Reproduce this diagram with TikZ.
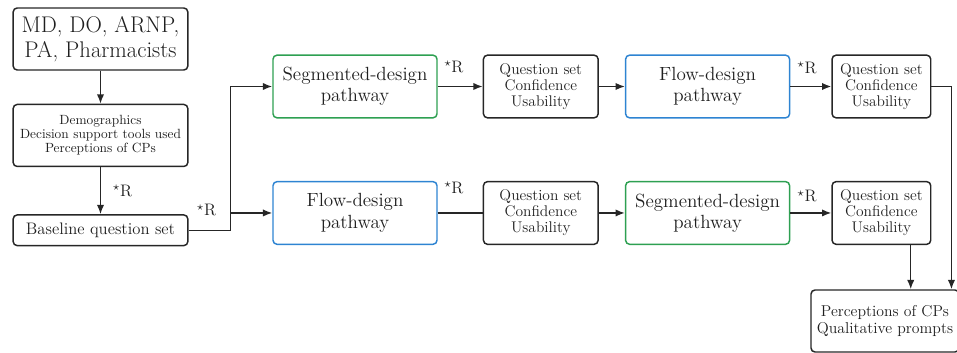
\documentclass[tikz,border=0pt]{standalone}
\usetikzlibrary{positioning, arrows.meta}
\definecolor{segGreen}{RGB}{46,160,82}
\definecolor{flowBlue}{RGB}{46,132,210}
\definecolor{lineGray}{RGB}{38,38,38}

\begin{document}
\begin{tikzpicture}[
x=0.75pt, y=-0.75pt,
mybox/.style={rectangle,
  rounded corners=3pt,
  draw=lineGray,
  line width=1.1pt,
  text=black!88,
  align=center,
  inner sep=1pt,
},
rolebox/.style={mybox, minimum width=131pt, minimum height=46.5pt, font=\fontsize{17}{18.5}\selectfont},
infobox/.style={mybox, minimum width=131pt, minimum height=46.5pt, font=\fontsize{10}{10.5}\selectfont},
basebox/.style={mybox, minimum width=131pt, minimum height=23pt, font=\fontsize{12.5}{14}\selectfont},
pathbox/.style={mybox, minimum width=123pt, minimum height=47pt, font=\fontsize{14.3}{16}\selectfont},
segbox/.style={pathbox, draw=segGreen},
flowbox/.style={pathbox, draw=flowBlue},
qsbox/.style={mybox, minimum width=86pt, minimum height=47pt, font=\fontsize{11.6}{12}\selectfont},
qsnarrow/.style={qsbox, minimum width=74pt},
finalbox/.style={mybox, minimum width=111pt, minimum height=46.5pt, font=\fontsize{11.8}{13}\selectfont},
rlabel/.style={inner sep=0pt, text=black!88, font=\fontsize{12.5}{13}\selectfont},
link/.style={->, line width=1.1pt, draw=lineGray},
>={Latex[length=7pt, width=5.5pt]}
]
\clip (0,0) rectangle (957,353);

% left column
\node[rolebox] (roles) at (100.5,39)
    {MD, DO, ARNP,\\PA, Pharmacists};
\node[infobox, below=24.75pt of roles] (demo)
    {Demographics\\Decision support tools used\\Perceptions of CPs};
\node[basebox, below=35.25pt of demo] (base)
    {Baseline question set};

% upper arm
\node[segbox] (seg1) at (355,86.5)
    {Segmented-design\\pathway};
\node[qsbox, right=33.75pt of seg1] (qs1)
    {Question set\\Confidence\\Usability};
\node[flowbox, right=19.5pt of qs1] (flow1)
    {Flow-design\\pathway};
\node[qsnarrow, right=30.75pt of flow1] (qs2)
    {Question set\\Confidence\\Usability};

% lower arm
\node[flowbox, below=46.75pt of seg1] (flow2)
    {Flow-design\\pathway};
\node[qsbox, right=33.75pt of flow2] (qs3)
    {Question set\\Confidence\\Usability};
\node[segbox, right=19.5pt of qs3] (seg2)
    {Segmented-design\\pathway};
\node[qsnarrow, right=30.75pt of seg2] (qs4)
    {Question set\\Confidence\\Usability};

\node[finalbox] (final) at (885,321)
    {Perceptions of CPs\\Qualitative prompts};

\coordinate (split) at ([xshift=31.5pt]base.east);
\coordinate (turn) at ([xshift=15pt]qs2.east);
\coordinate (drop) at ([xshift=22pt]qs4.south);

\draw[link] (roles) -- (demo);
\draw[link] (demo) -- node[rlabel, right=9pt] {$^{\star}$R} (base);

\draw[link] (base.east) -- node[rlabel, above=10pt, pos=0.43] {$^{\star}$R} (split) |- (seg1.west);
\draw[link] (split |- flow2.west) -- (flow2.west);

\draw[link] (seg1) -- node[rlabel, above=10pt, pos=0.36] {$^{\star}$R} (qs1);
\draw[link] (qs1) -- (flow1);
\draw[link] (flow1) -- node[rlabel, above=9pt, pos=0.41] {$^{\star}$R} (qs2);
\draw[link] (qs2.east) -- (turn) -- (turn |- final.north);

\draw[link, -] (flow2) -- node[rlabel, above=14pt, pos=0.36] {$^{\star}$R} (qs3);
\draw[link] (qs3) -- (seg2);
\draw[link] (seg2) -- node[rlabel, above=7.5pt, pos=0.41] {$^{\star}$R} (qs4);
\draw[link] (drop) -- (drop |- final.north);
\end{tikzpicture}
\end{document}
